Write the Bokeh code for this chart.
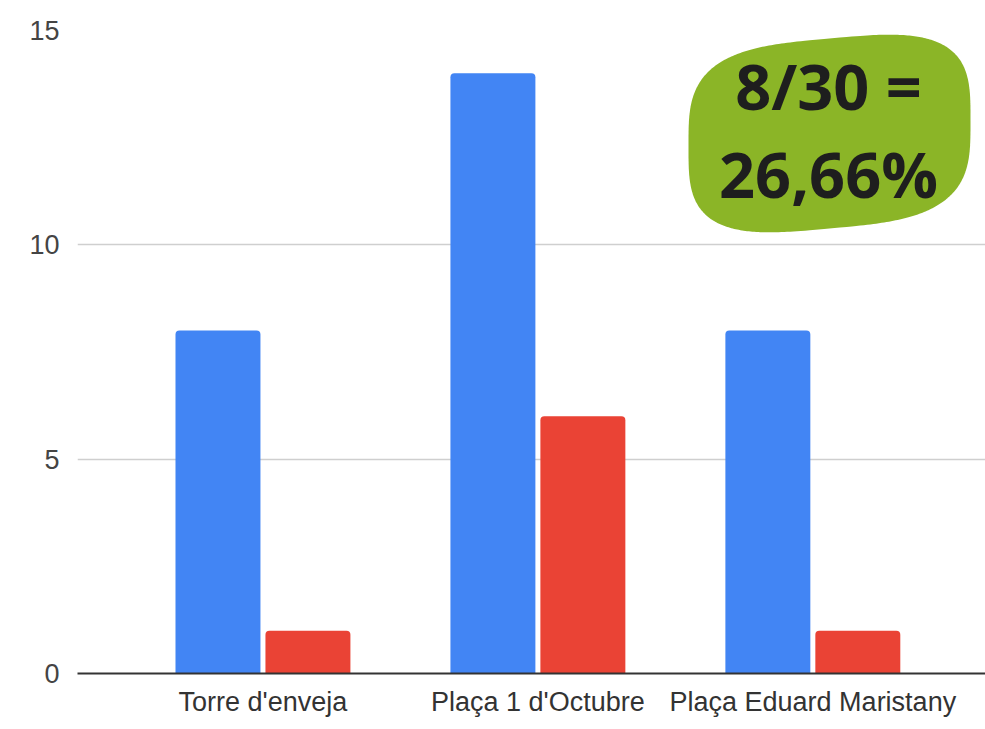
import numpy as np
from bokeh.plotting import figure
from bokeh.models import Range1d, FixedTicker
from bokeh.core.properties import value
from bokeh.embed import file_html
from bokeh.resources import INLINE

# ---- data ----
categories = ["Torre d'enveja", "Plaça 1 d'Octubre", "Plaça Eduard Maristany"]
series_blue = [8, 14, 8]
series_red = [1, 6, 1]
y_ticks = [0, 5, 10, 15]
badge_lines = ["8/30 =", "26,66%"]

# ---- layout constants ----
W, H = 985, 729
frame_left, frame_right = 77, 985      # in figure px
frame_top, frame_bottom = 30, 673
x_start, x_end = -0.1745, 3.128
y_start, y_end = 0, 15

p = figure(width=W, height=H, output_backend="svg", toolbar_location=None,
           x_range=Range1d(x_start, x_end), y_range=Range1d(y_start, y_end),
           min_border_left=frame_left, min_border_right=W - frame_right,
           min_border_top=frame_top, min_border_bottom=H - frame_bottom)
p.outline_line_color = None
p.background_fill_color = "white"
p.border_fill_color = "white"

xc = np.arange(len(categories)) + 0.5
bw = 0.309
off = 0.1636
p.vbar(x=xc - off, top=series_blue, width=bw, bottom=0, fill_color="#4285F4",
       line_color=None, border_radius=(4, 4, 0, 0))
p.vbar(x=xc + off, top=series_red, width=bw, bottom=0, fill_color="#EA4335",
       line_color=None, border_radius=(4, 4, 0, 0))

# axes
p.xgrid.grid_line_color = None
p.ygrid.grid_line_color = "#cfcfcf"
p.ygrid.grid_line_width = 1.5
p.yaxis.ticker = FixedTicker(ticks=y_ticks)
p.yaxis.axis_line_color = None
p.yaxis.major_tick_line_color = None
p.yaxis.minor_tick_line_color = None
p.yaxis.major_label_text_font = "Liberation Sans"
p.yaxis.major_label_text_font_size = "27px"
p.yaxis.major_label_text_color = "#444444"
p.yaxis.major_label_standoff = 12

p.xaxis.ticker = FixedTicker(ticks=list(xc))
p.xaxis.major_label_overrides = {float(v): c for v, c in zip(xc, categories)}
p.xaxis.axis_line_color = "#333333"
p.xaxis.axis_line_width = 2
p.xaxis.major_tick_line_color = None
p.xaxis.minor_tick_line_color = None
p.xaxis.major_label_text_font = "Liberation Sans"
p.xaxis.major_label_text_font_size = "27px"
p.xaxis.major_label_text_color = "#333333"
p.xaxis.major_label_standoff = 7

# ---- badge (decoration), defined in page pixels, converted to data ----
px_per_x = (frame_right - frame_left) / (x_end - x_start)
px_per_y = (frame_bottom - frame_top) / (y_end - y_start)
def to_dx(px):
    return x_start + (np.asarray(px) - frame_left) / px_per_x
def to_dy(py):
    return (frame_bottom - np.asarray(py)) / px_per_y

t = np.linspace(0, 2 * np.pi, 400)
n = 3.4
cx, cy, a, b = 829, 133, 141, 95
bx = cx + a * np.sign(np.cos(t)) * np.abs(np.cos(t)) ** (2 / n)
by = cy + b * np.sign(np.sin(t)) * np.abs(np.sin(t)) ** (2 / n)
by = by - 0.09 * (bx - cx)
p.patch(to_dx(bx), to_dy(by), fill_color="#8BB527", line_color=None)

p.text(x=[float(to_dx(828))] * 2, y=[float(to_dy(85)), float(to_dy(173))],
       text=badge_lines, text_align="center", text_baseline="alphabetic",
       text_font=value("Open Sans"), text_font_style="bold",
       text_font_size="63px", text_color="#1e1e1e")

open("out.html", "w").write(file_html(p, INLINE))
